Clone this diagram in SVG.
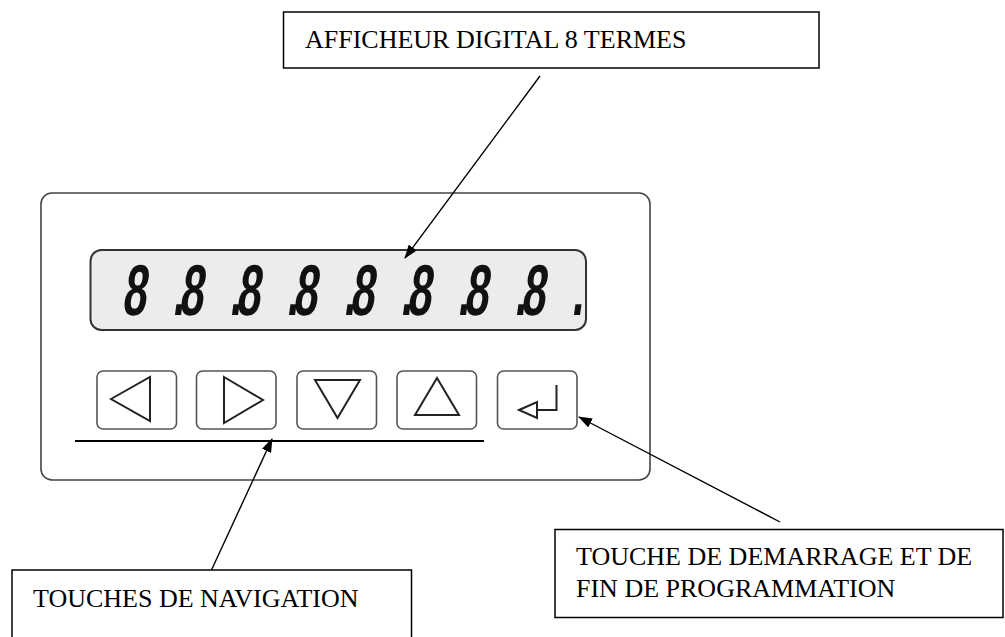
<svg xmlns="http://www.w3.org/2000/svg" width="1005" height="637" viewBox="0 0 1005 637">
<defs>
<style>
.lbl{fill:none;stroke:#000;stroke-width:1.5}
.txt{font-family:"Liberation Serif","Times New Roman",serif;font-size:26px;fill:#000}
.key{fill:#fff;stroke:#555;stroke-width:1.6}
.sym{fill:none;stroke:#222;stroke-width:2;stroke-linejoin:miter}
.conn{fill:none;stroke:#000;stroke-width:1.4}
</style>
<marker id="ah" viewBox="0 0 14 10" refX="13" refY="5" markerWidth="14" markerHeight="10" markerUnits="userSpaceOnUse" orient="auto">
<path d="M0,0 L14,5 L0,10 z" fill="#000"/>
</marker>
</defs>
<rect width="1005" height="637" fill="#fff"/>

<g id="panel">
<rect x="41" y="193" width="609" height="287" rx="11" fill="#fff" stroke="#444" stroke-width="1.6"/>
</g>

<g id="display">
<rect x="90.5" y="250" width="495.5" height="80" rx="11" fill="#ececec" stroke="#333" stroke-width="2"/>
<text transform="translate(0,315) skewX(-8) scale(0.6,1)" font-family="'Liberation Sans',Arial,sans-serif" font-weight="bold" font-size="72" fill="#111" x="202.5 286.7 297.5 381.7 392.5 476.7 487.5 571.7 582.5 666.7 677.5 761.7 772.5 856.7 867.5 951.7" y="0">8.8.8.8.8.8.8.8.</text>
</g>

<g id="btn-left">
<rect class="key" x="97" y="371" width="79.5" height="58" rx="6"/>
<polygon class="sym" points="111,399 150,377 150,421"/>
</g>
<g id="btn-right">
<rect class="key" x="196.5" y="371" width="79.5" height="58" rx="6"/>
<polygon class="sym" points="224,377 263,400 224,423"/>
</g>
<g id="btn-down">
<rect class="key" x="297" y="371" width="79.5" height="58" rx="6"/>
<polygon class="sym" points="315,380 360,380 337.5,418"/>
</g>
<g id="btn-up">
<rect class="key" x="397" y="371" width="79.5" height="58" rx="6"/>
<polygon class="sym" points="437,378 415,415 459,415"/>
</g>
<g id="btn-enter">
<rect class="key" x="497.5" y="371" width="79.5" height="58" rx="6"/>
<polyline class="sym" points="556.5,385 556.5,410 537,410"/>
<polygon class="sym" stroke-width="1.6" points="519,410 537,402 537,418"/>
</g>

<g id="nav-bracket">
<line x1="75" y1="441" x2="484" y2="441" stroke="#000" stroke-width="2"/>
</g>

<g id="label-display">
<rect class="lbl" x="283.5" y="12" width="535.5" height="56"/>
<text class="txt" x="305" y="48">AFFICHEUR DIGITAL 8 TERMES</text>
</g>
<g id="label-nav">
<rect class="lbl" x="12" y="570" width="399.5" height="90"/>
<text class="txt" x="33" y="607">TOUCHES DE NAVIGATION</text>
</g>
<g id="label-enter">
<rect class="lbl" x="555" y="529.5" width="448" height="88"/>
<text class="txt" x="576" y="565">TOUCHE DE DEMARRAGE ET DE</text>
<text class="txt" x="576" y="596.5">FIN DE PROGRAMMATION</text>
</g>

<g id="connectors">
<line class="conn" x1="540" y1="76" x2="405" y2="258" marker-end="url(#ah)"/>
<line class="conn" x1="211.5" y1="570" x2="272" y2="439" marker-end="url(#ah)"/>
<line class="conn" x1="780" y1="522" x2="579" y2="417" marker-end="url(#ah)"/>
</g>
</svg>
